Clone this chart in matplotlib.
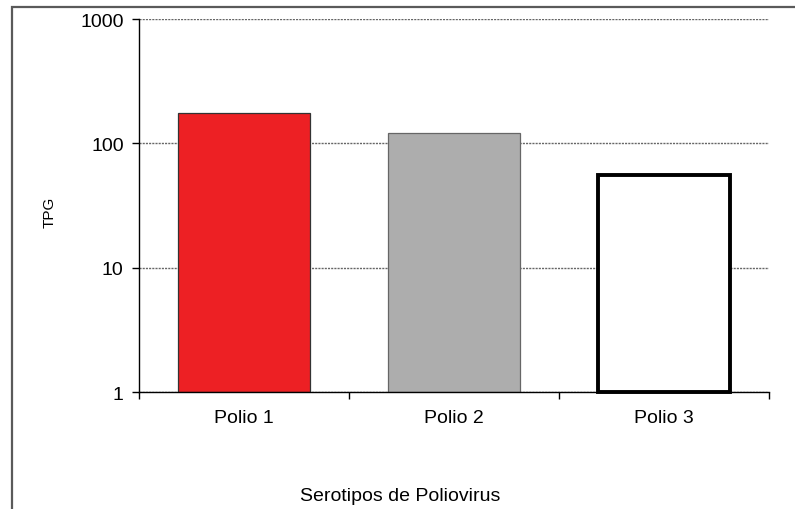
import matplotlib
matplotlib.use("Agg")
import matplotlib.pyplot as plt
from matplotlib.patches import Rectangle
from matplotlib.ticker import FixedLocator, NullFormatter

plt.rcParams['font.family'] = ['Liberation Sans', 'DejaVu Sans']

categories = ["Polio 1", "Polio 2", "Polio 3"]
values = [175, 120, 56]
yticks = [1, 10, 100, 1000]
ytick_labels = ["1", "10", "100", "1000"]
xlabel = "Serotipos de Poliovirus"
ylabel = "TPG"

W, H = 795, 510
fig = plt.figure(figsize=(W / 100, H / 100), dpi=100)

# outer chart border (extends past right/bottom edges)
fig.patches.append(Rectangle((12 / W, -0.1), 1.2, (H - 8) / H + 0.1,
                             transform=fig.transFigure, fill=False,
                             edgecolor="#5a5a5a", linewidth=1.6))

ax = fig.add_axes([139 / W, 1 - 393 / H, (769 - 139) / W, (393 - 20) / H])
ax.set_yscale("log")
ax.set_ylim(1, 1000)
ax.set_xlim(-0.5, 2.5)

faces = ["#ED2024", "#ADADAD", "#FFFFFF"]
edges = ["#333333", "#666666", "#000000"]
lws = [0.9, 0.9, 2.8]
x = list(range(len(categories)))
for i, v in enumerate(values):
    b = ax.bar(x[i], v - 1, bottom=1, width=0.63, color=faces[i],
               edgecolor=edges[i], linewidth=lws[i], zorder=3)
    if i == 2:
        for p in b:
            p.set_clip_on(False)

ax.set_yticks(yticks)
ax.set_yticklabels(ytick_labels)
ax.yaxis.set_minor_locator(FixedLocator([]))
ax.yaxis.set_minor_formatter(NullFormatter())
ax.tick_params(axis="y", which="major", length=5, width=1, direction="out",
               labelsize=14, pad=6, colors="black")

ax.set_xticks(x)
ax.set_xticklabels(categories)
ax.tick_params(axis="x", which="major", length=0, labelsize=14, pad=12)
ax.xaxis.set_minor_locator(FixedLocator([-0.5, 0.5, 1.5, 2.5]))
ax.tick_params(axis="x", which="minor", length=5, width=1, direction="out")

ax.grid(axis="y", which="major", linestyle=(0, (1.5, 0.8)), color="#666666",
        linewidth=1.0, zorder=1)

for s in ["top", "right"]:
    ax.spines[s].set_visible(False)
ax.spines["left"].set_linewidth(1)
ax.spines["bottom"].set_linewidth(1)
ax.spines["left"].set_zorder(4)
ax.spines["bottom"].set_zorder(4)

fig.text(50 / W, 1 - 212 / H, ylabel, rotation=90, ha="center", va="center",
         fontsize=11)
fig.text(400 / W, 1 - 497 / H, xlabel, ha="center", va="center", fontsize=14)

fig.savefig("out.png", dpi=100)
